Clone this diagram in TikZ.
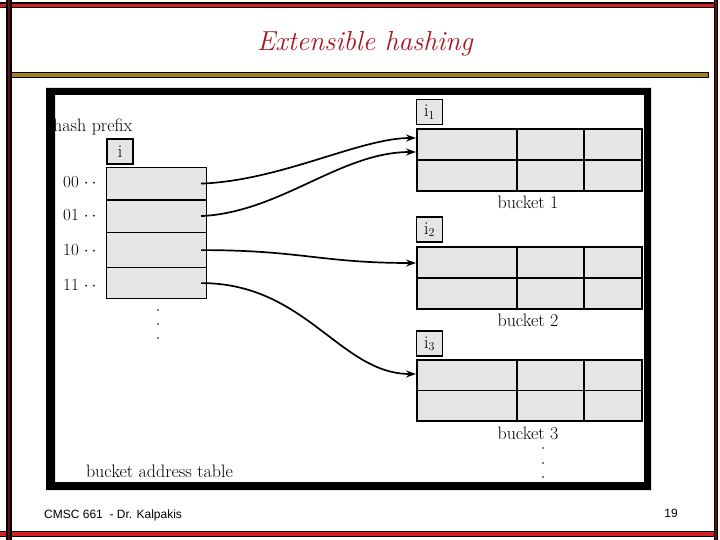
\documentclass[tikz,border=0pt]{standalone}
\usepackage{fontspec}
\newfontfamily\arialf{Liberation Sans}
\usetikzlibrary{arrows.meta,calc}
\definecolor{cellgray}{RGB}{229,229,229}
\definecolor{slidered}{RGB}{212,32,36}
\definecolor{bardark}{RGB}{96,16,16}
\definecolor{goldbar}{RGB}{158,128,28}
\definecolor{titlered}{RGB}{168,22,30}
\begin{document}
\begin{tikzpicture}[x=1pt,y=-1pt,
  lbl/.style={font=\fontsize{18}{21}\selectfont, inner sep=0pt},
  rowlbl/.style={font=\fontsize{17}{20}\selectfont, inner sep=0pt, anchor=base west},
  cell/.style={draw, fill=cellgray, line width=1.2pt, minimum width=100pt, inner sep=0pt, anchor=north west},
  bucketbox/.style={draw, fill=cellgray, line width=1.8pt, minimum width=225pt, minimum height=62pt, inner sep=0pt, anchor=north west},
  depthbox/.style={draw, fill=cellgray, line width=1.4pt, minimum width=26pt, minimum height=25pt, inner sep=0pt, font=\fontsize{18}{21}\selectfont},
  ptr/.style={line width=1.7pt, -{Stealth[length=10pt,width=7pt]}},
  dotmark/.style={circle, fill=black, inner sep=0pt, minimum size=1.8pt},
  divider/.style={line width=1.6pt}
]
\useasboundingbox (0,0) rectangle (720,540);
% slide decoration
\fill[black] (0,2.5) rectangle (714,8.5);
\fill[slidered] (0,3.9) rectangle (714,7.1);
\fill[black] (0,531) rectangle (714,537);
\fill[slidered] (0,532.4) rectangle (714,535.6);
\fill[black] (6,0) rectangle (12,540);
\fill[bardark] (7.6,0) rectangle (10.4,540);
\fill[black] (714,0) rectangle (718,540);
\fill[bardark] (715.2,0) rectangle (716.8,540);
\filldraw[fill=goldbar, draw=black, line width=0.8pt] (11,72) rectangle (708,77);
% title
\node[font=\fontsize{27.5}{32}\selectfont\itshape, text=titlered, inner sep=0pt] (title) at (365,44) {Extensible hashing};
% bucket address table
\node[lbl, anchor=base west] (hp) at (53,132) {hash prefix};
\node[depthbox] (gd) at (120,151.5) {i};
\node[cell, minimum height=32pt] (r0) at (106,167) {};
\node[cell, minimum height=33pt] (r1) at (106,199) {};
\node[cell, minimum height=35pt] (r2) at (106,232) {};
\node[cell, minimum height=31pt] (r3) at (106,267) {};
\draw[line width=2pt] (r0.south west) -- (r0.south east);
\node[rowlbl] (l0) at (63,188) {00 ${\cdot}\,{\cdot}$};
\node[rowlbl] (l1) at (63,221) {01 ${\cdot}\,{\cdot}$};
\node[rowlbl] (l2) at (63,255) {10 ${\cdot}\,{\cdot}$};
\node[rowlbl] (l3) at (63,290) {11 ${\cdot}\,{\cdot}$};
\node[dotmark] (ld1) at (158,310) {};
\node[dotmark] (ld2) at (158,324) {};
\node[dotmark] (ld3) at (158,338) {};
\node[lbl] (bat) at (159.5,471) {bucket address table};
% buckets
\node[depthbox] (h1) at (429.5,112) {$\mathrm{i}_1$};
\node[bucketbox] (b1) at (416,128) {};
\draw[divider] (b1.west) -- (b1.east);
\draw[divider] ($(b1.north west)+(101,0)$) -- ($(b1.south west)+(101,0)$);
\draw[divider] ($(b1.north west)+(168,0)$) -- ($(b1.south west)+(168,0)$);
\node[lbl] (bl1) at (528,202) {bucket 1};
\node[depthbox] (h2) at (429.5,229.5) {$\mathrm{i}_2$};
\node[bucketbox] (b2) at (416,246) {};
\draw[divider] (b2.west) -- (b2.east);
\draw[divider] ($(b2.north west)+(101,0)$) -- ($(b2.south west)+(101,0)$);
\draw[divider] ($(b2.north west)+(168,0)$) -- ($(b2.south west)+(168,0)$);
\node[lbl] (bl2) at (528,320) {bucket 2};
\node[depthbox] (h3) at (429.5,343.5) {$\mathrm{i}_3$};
\node[bucketbox, minimum height=61pt] (b3) at (416,359) {};
\draw[line width=1.2pt] (b3.west) -- (b3.east);
\draw[line width=1.2pt] ($(b3.north west)+(101,0)$) -- ($(b3.south west)+(101,0)$);
\draw[line width=1.2pt] ($(b3.north west)+(168,0)$) -- ($(b3.south west)+(168,0)$);
\node[lbl] (bl3) at (528,433) {bucket 3};
\node[dotmark] (bd1) at (543,448) {};
\node[dotmark] (bd2) at (543,463) {};
\node[dotmark] (bd3) at (543,477) {};
% pointers
\draw[ptr] ([xshift=-6pt]r0.east) .. controls +(80,-3) and +(-56,0) .. ($(b1.north west)+(0,10)$);
\draw[ptr] ([xshift=-6pt]r1.east) .. controls +(80,-4) and +(-76,0) .. ($(b1.north west)+(0,24)$);
\draw[ptr] ([xshift=-6pt]r2.east) .. controls +(100,0) and +(-95,0) .. ($(b2.north west)+(0,17)$);
\draw[ptr] ([xshift=-6pt]r3.east) .. controls +(105,0) and +(-76,0) .. ($(b3.north west)+(0,15)$);
% frame
\fill[black, even odd rule] (46,88) rectangle (651,490) (55,95) rectangle (644,482);
% footer
\node[font=\arialf\fontsize{12}{14}\selectfont, inner sep=0pt, anchor=west] (foot) at (44,515) {CMSC 661 \ - Dr. Kalpakis};
\node[font=\arialf\fontsize{12}{14}\selectfont, inner sep=0pt] (pg) at (671,513) {19};
\end{tikzpicture}
\end{document}
